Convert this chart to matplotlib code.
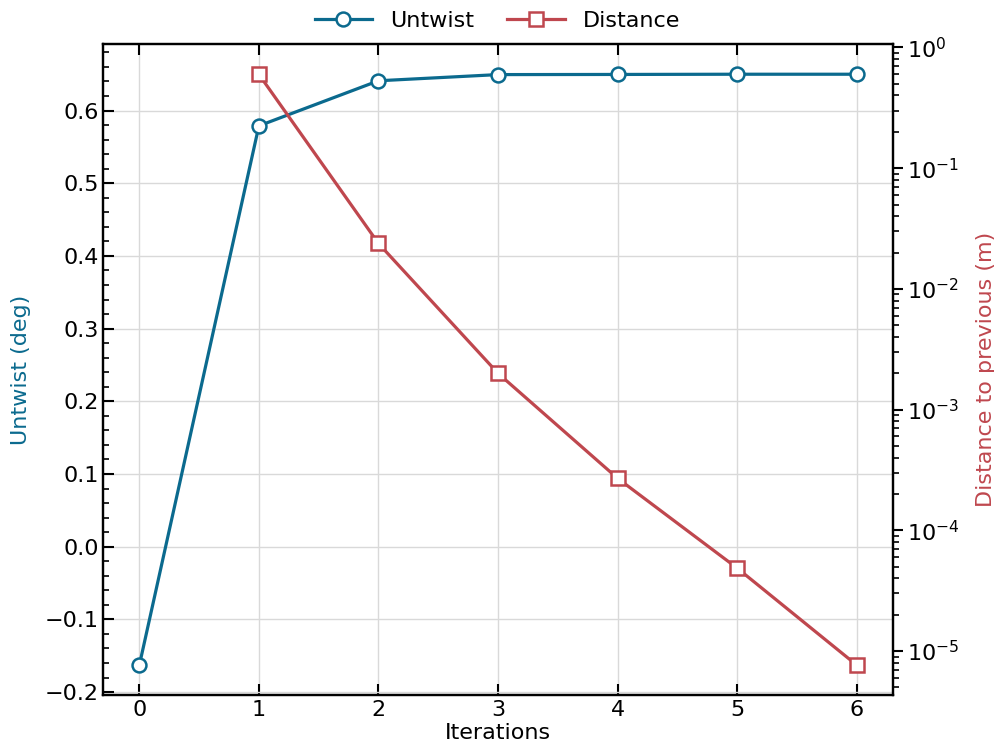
import numpy as np
import matplotlib
matplotlib.use("Agg")
import matplotlib.pyplot as plt
from matplotlib.ticker import AutoMinorLocator, LogLocator, NullFormatter
from matplotlib.lines import Line2D

iterations = [0, 1, 2, 3, 4, 5, 6]
untwist = [-0.163, 0.579, 0.641, 0.6495, 0.6497, 0.650, 0.650]
dist_iters = [1, 2, 3, 4, 5, 6]
distance = [0.598, 0.0238, 0.0020, 2.70e-4, 4.87e-5, 7.66e-6]

BLUE = "#0b6a8e"
RED = "#bf474e"

plt.rcParams["font.size"] = 16

fig, ax = plt.subplots(figsize=(9.95, 7.53), dpi=100)
ax2 = ax.twinx()

ax.plot(iterations, untwist, "-o", color=BLUE, lw=2.3, ms=10,
        mfc="white", mec=BLUE, mew=1.8, zorder=3)
ax2.plot(dist_iters, distance, "-s", color=RED, lw=2.3, ms=10,
         mfc="white", mec=RED, mew=1.8, zorder=3)

ax.set_xlim(-0.3, 6.3)
ax.set_ylim(-0.204, 0.691)
ax2.set_yscale("log")
ax2.set_ylim(10 ** -5.364, 10 ** 0.025)

ax.set_xticks(iterations)
ax.yaxis.set_minor_locator(AutoMinorLocator())
ax2.yaxis.set_major_locator(LogLocator(base=10, numticks=10))
ax2.yaxis.set_minor_locator(LogLocator(base=10, subs=np.arange(2, 10), numticks=20))
ax2.yaxis.set_minor_formatter(NullFormatter())

ax.grid(True, color="#d9d9d9", lw=1)
ax.set_axisbelow(True)

ax.tick_params(axis="both", which="major", direction="in", length=8, width=1.5,
               top=True, labelsize=16)
ax.tick_params(axis="y", which="minor", direction="in", length=4.5, width=1.2)
ax2.tick_params(axis="y", which="major", direction="out", length=7, width=1.5,
                labelsize=16)
ax2.tick_params(axis="y", which="minor", direction="out", length=4, width=1.2)
for a in (ax, ax2):
    for sp in a.spines.values():
        sp.set_linewidth(1.6)

ax.set_xlabel("Iterations", labelpad=2)
ax.set_ylabel("Untwist (deg)", color=BLUE, labelpad=10)
ax2.set_ylabel("Distance to previous (m)", color=RED, labelpad=12)

handles = [
    Line2D([], [], color=BLUE, lw=2.3, marker="o", ms=10, mfc="white", mec=BLUE, mew=1.8),
    Line2D([], [], color=RED, lw=2.3, marker="s", ms=10, mfc="white", mec=RED, mew=1.8),
]
fig.legend(handles, ["Untwist", "Distance"], loc="upper center", ncol=2,
           frameon=False, bbox_to_anchor=(0.5, 1.012), columnspacing=1.5,
           handlelength=2.6, fontsize=16)

fig.subplots_adjust(left=0.104, right=0.897, top=0.941, bottom=0.077)
fig.savefig("out.png", dpi=100)
